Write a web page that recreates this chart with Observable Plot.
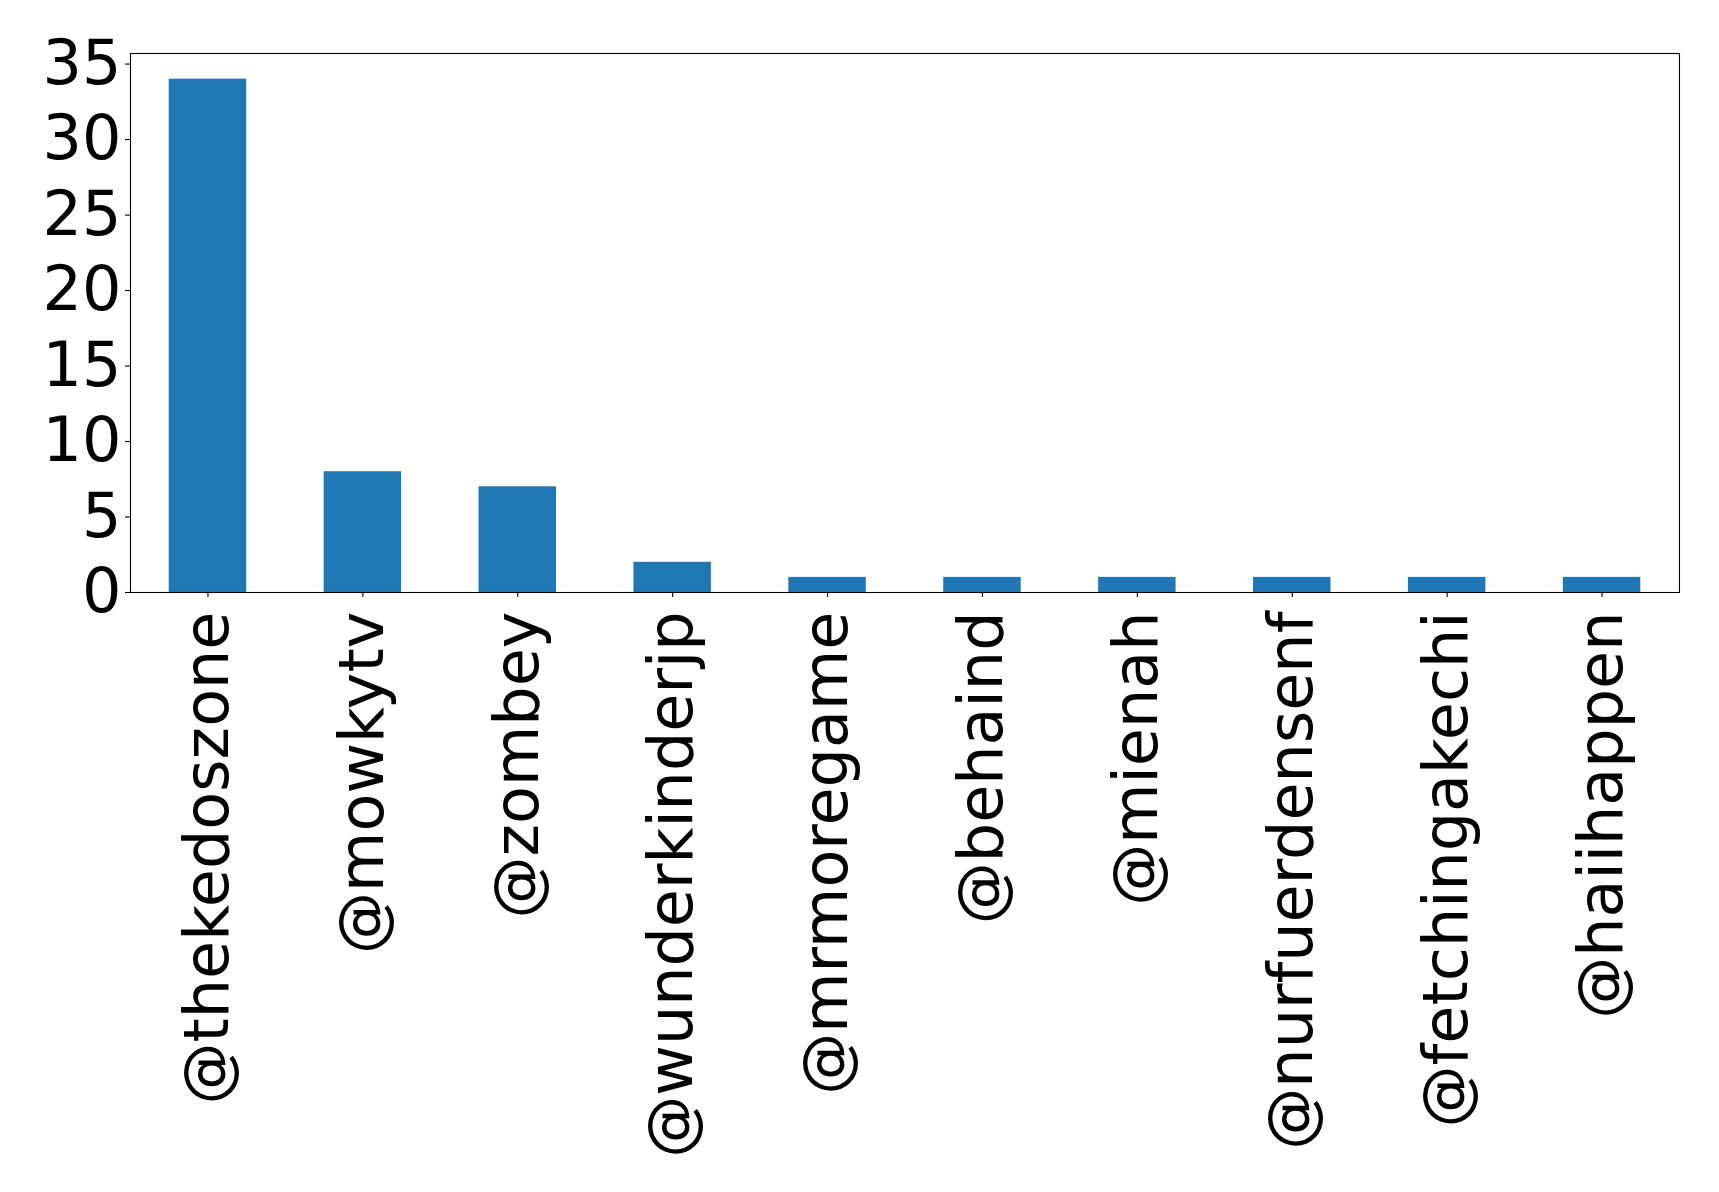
<!DOCTYPE html>
<html>
<head>
<meta charset="utf-8">
<script src="https://cdn.jsdelivr.net/npm/d3@7"></script>
<script src="https://cdn.jsdelivr.net/npm/@observablehq/plot@0.6"></script>
<style>
  html, body { margin: 0; padding: 0; background: #fff; }
</style>
</head>
<body>
<div id="chart"></div>
<script>
// Mention counts per account
const accounts = ["@thekedoszone", "@mowkytv", "@zombey", "@wunderkinderjp", "@mrmoregame",
                  "@behaind", "@mienah", "@nurfuerdensenf", "@fetchingakechi", "@haiihappen"];
const counts = [34, 8, 7, 2, 1, 1, 1, 1, 1, 1];
const yTicks = [0, 5, 10, 15, 20, 25, 30, 35];

const rows = accounts.map((name, i) => ({name, count: counts[i]}));

const chart = Plot.plot({
  width: 1719,
  height: 1192,
  marginLeft: 130,
  marginRight: 40,
  marginTop: 53,
  marginBottom: 600,
  style: {fontFamily: "DejaVu Sans", fontSize: "62px", color: "#000", background: "#fff"},
  x: {domain: accounts, paddingInner: 0.5, paddingOuter: 0.25, round: false, label: null},
  y: {domain: [0, 35.7], label: null},
  marks: [
    Plot.barY(rows, {x: "name", y: "count", fill: "#1f77b4"}),
    Plot.axisY({ticks: yTicks, tickSize: 5, tickPadding: 4, label: null, strokeWidth: 1.1}),
    Plot.axisX({tickRotate: -90, tickSize: 5, tickPadding: 14, label: null, strokeWidth: 1.1}),
    Plot.frame({stroke: "#000", strokeWidth: 1.1})
  ]
});

document.getElementById("chart").appendChild(chart);
</script>
</body>
</html>
